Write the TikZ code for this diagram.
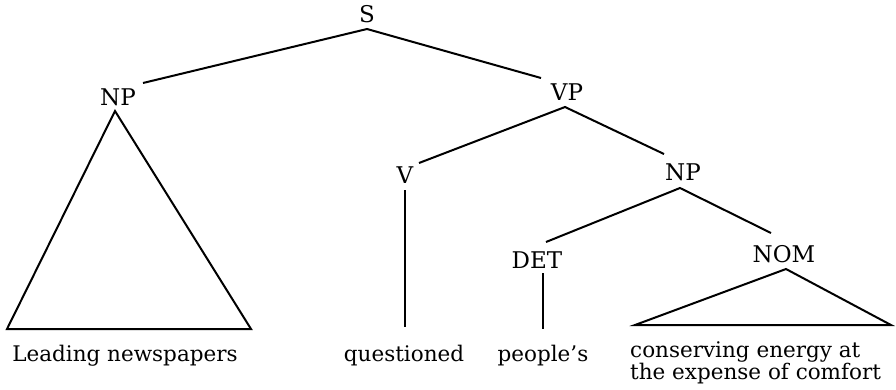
\documentclass[tikz,border=0pt]{standalone}
\usepackage{fontspec}
\setmainfont{DejaVu Serif}
\begin{document}
\begin{tikzpicture}[x=1pt,y=-1pt,
  lab/.style={anchor=base,inner sep=0pt,font=\fontsize{23}{24}\selectfont},
  word/.style={anchor=base,inner sep=0pt,font=\fontsize{21.5}{22}\selectfont},
  edge/.style={line width=2pt,line join=miter}]
\useasboundingbox (0,0) rectangle (896,389);
% category labels
\node[lab] (S) at (367,22) {S};
\node[lab] (NPa) at (118,105) {NP};
\node[lab] (VP) at (567,100) {VP};
\node[lab] (V) at (405,183) {V};
\node[lab] (NPb) at (683,180) {NP};
\node[lab] (DET) at (537,268) {DET};
\node[lab] (NOM) at (784,262) {NOM};
% words
\node[word] (w1) at (125,361) {Leading newspapers};
\node[word] (w2) at (404,361) {questioned};
\node[word] (w3) at (543,361) {people’s};
\node[word,anchor=base west] (w4) at (630,357) {conserving energy at};
\node[word,anchor=base west] (w5) at (630,379) {the expense of comfort};
% connector points
\coordinate (sA) at (367,29);
\coordinate (sL) at (143,83);
\coordinate (sR) at (541,78);
\coordinate (npA) at (115,111);
\coordinate (npL) at (7,329);
\coordinate (npR) at (251,329);
\coordinate (vpA) at (565,107);
\coordinate (vpL) at (419,163);
\coordinate (vpR) at (664,154);
\coordinate (vT) at (405,190);
\coordinate (vB) at (405,327);
\coordinate (np2A) at (680,188);
\coordinate (np2L) at (546,242);
\coordinate (np2R) at (771,233);
\coordinate (dT) at (543,273);
\coordinate (dB) at (543,329);
\coordinate (nomA) at (786,269);
\coordinate (nomL) at (635,325);
\coordinate (nomR) at (891,325);
% edges
\draw[edge] (sL) -- (sA) -- (sR);
\draw[edge] (npA) -- (npL) -- (npR) -- cycle;
\draw[edge] (vpL) -- (vpA) -- (vpR);
\draw[edge] (vT) -- (vB);
\draw[edge] (np2L) -- (np2A) -- (np2R);
\draw[edge] (dT) -- (dB);
\draw[edge] (nomA) -- (nomL) -- (nomR) -- cycle;
\end{tikzpicture}
\end{document}
